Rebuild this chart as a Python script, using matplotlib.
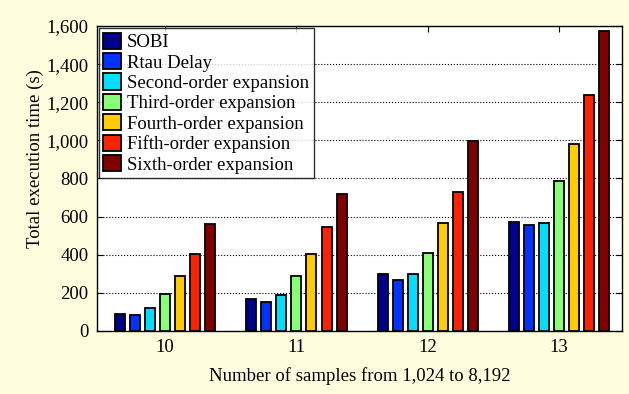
import numpy as np
import matplotlib.pyplot as plt
from matplotlib.ticker import FuncFormatter

plt.rcParams['font.family'] = ['Liberation Serif', 'DejaVu Serif']

groups = [10, 11, 12, 13]
methods = ['SOBI', 'Rtau Delay', 'Second-order expansion', 'Third-order expansion',
           'Fourth-order expansion', 'Fifth-order expansion', 'Sixth-order expansion']
sobi = [91, 168, 297, 572]
rtau = [86, 154, 266, 558]
second = [119, 191, 301, 568]
third = [194, 289, 411, 789]
fourth = [290, 406, 565, 981]
fifth = [406, 547, 731, 1237]
sixth = [561, 720, 998, 1576]
colors = ['#00008F', '#0033FF', '#00DDFF', '#88FF77', '#FFCC00', '#FF2200', '#800000']

series = [sobi, rtau, second, third, fourth, fifth, sixth]
fs = 13.5

fig = plt.figure(figsize=(6.29, 3.94), dpi=100, facecolor='#FFFFE0')
ax = fig.add_axes([0.154, 0.160, 0.835, 0.774])

x = np.array(groups, dtype=float)
step = 0.1145
width = 0.076
for i, (vals, c, name) in enumerate(zip(series, colors, methods)):
    off = (i - 3) * step
    ax.bar(x + off, vals, width, color=c, edgecolor='black', linewidth=1.3,
           label=name, zorder=3)

ax.set_xlim(9.48, 13.48)
ax.set_ylim(0, 1600)
ax.set_xticks(groups)
ax.set_yticks(np.arange(0, 1601, 200))
ax.yaxis.set_major_formatter(FuncFormatter(lambda v, p: f'{int(v):,}'))
ax.yaxis.grid(True, linestyle=':', color='black', linewidth=0.8, zorder=0)
ax.tick_params(direction='in', top=True, right=True, labelsize=fs, length=4, pad=6)
for s in ax.spines.values():
    s.set_linewidth(1.0)

ax.set_xlabel('Number of samples from 1,024 to 8,192', fontsize=fs, labelpad=8)
ax.set_ylabel('Total execution time (s)', fontsize=fs)
ax.yaxis.set_label_coords(-0.101, 0.564)

leg = ax.legend(loc='upper left', fontsize=fs, frameon=True, fancybox=False,
                edgecolor='black', borderpad=0.25, labelspacing=0.1,
                handlelength=0.95, handleheight=0.95, handletextpad=0.3,
                borderaxespad=0.1)
leg.get_frame().set_linewidth(1.0)

fig.savefig('out.png', dpi=100, facecolor=fig.get_facecolor())
